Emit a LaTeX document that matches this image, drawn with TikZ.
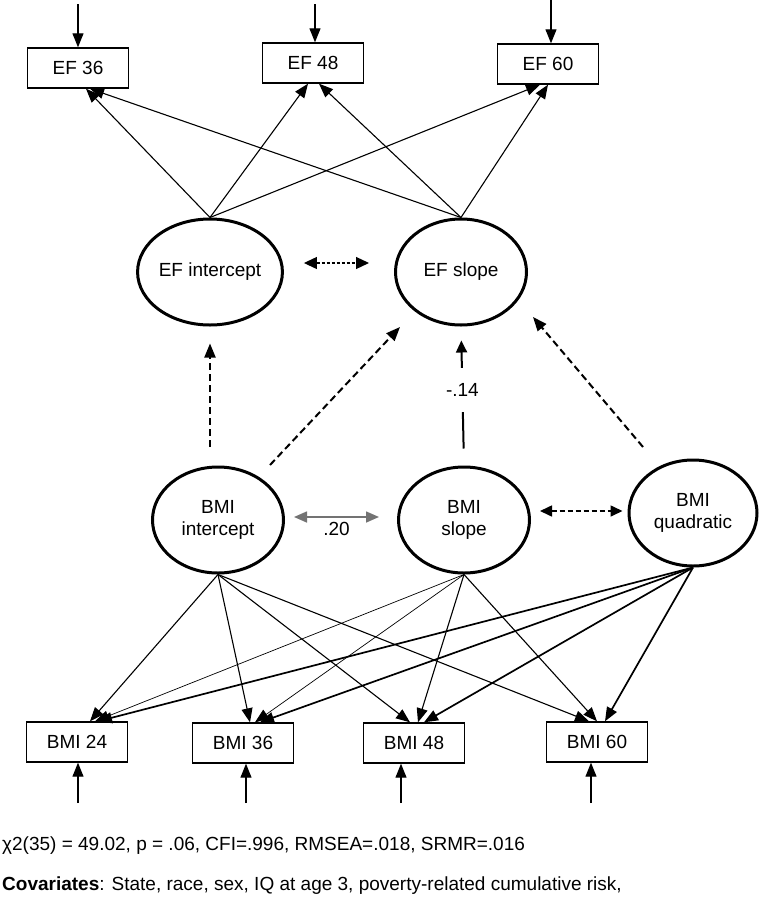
\documentclass[tikz,border=0pt]{standalone}
\usepackage{fontspec}
\setmainfont{Liberation Sans}
\usetikzlibrary{shapes.geometric,arrows.meta,calc}
\begin{document}
\begin{tikzpicture}[x=1pt,y=-1pt,
  every node/.style={font=\fontsize{19}{22}\selectfont},
  obs/.style={draw,line width=1.4pt,minimum width=101pt,minimum height=40pt,inner sep=0pt},
  lat/.style={ellipse,draw,line width=3pt,minimum width=131pt,minimum height=106pt,inner sep=0pt,align=center},
  ld/.style={line width=1.1pt,-{Triangle[length=14pt,width=11pt]}},
  ldthick/.style={line width=1.7pt,-{Triangle[length=14pt,width=11pt]}},
  ldthin/.style={line width=0.7pt,-{Triangle[length=14pt,width=11pt]}},
  err/.style={line width=1.1pt,-{Triangle[length=14pt,width=11pt]}},
  dasharr/.style={line width=2pt,dash pattern=on 7pt off 4pt,-{Triangle[length=14pt,width=11pt]}},
  solidarr/.style={line width=2pt,-{Triangle[length=12pt,width=11pt]}},
  dotcov/.style={line width=1.2pt,dash pattern=on 3pt off 2pt,{Triangle[length=13pt,width=12pt]}-{Triangle[length=13pt,width=12pt]}},
  dashcov/.style={line width=1.6pt,dash pattern=on 5pt off 3pt,{Triangle[length=12pt,width=11pt]}-{Triangle[length=12pt,width=11pt]}},
  graycov/.style={line width=1.6pt,draw=black!55,{Triangle[length=13pt,width=11pt]}-{Triangle[length=13pt,width=11pt]}}
]
\useasboundingbox (0,0) rectangle (761,900);

% observed EF
\node[obs] (ef36) at (78,68) {EF 36};
\node[obs] (ef48) at (313,63) {EF 48};
\node[obs] (ef60) at (548,64) {EF 60};
% latent EF
\node[lat] (efi) at (210,272) {EF intercept};
\node[lat] (efs) at (461,272) {EF slope};
% latent BMI
\node[lat] (bi) at (218,520) {BMI\\intercept};
\node[lat] (bs) at (464,520) {BMI\\slope};
\node[lat,minimum width=128pt] (bq) at (693,513) {BMI\\quadratic};
% observed BMI
\node[obs] (b24) at (77,742) {BMI 24};
\node[obs] (b36) at (243,743) {BMI 36};
\node[obs] (b48) at (414,743) {BMI 48};
\node[obs] (b60) at (597,742) {BMI 60};

% residual arrows
\coordinate (t36) at (78,4);
\coordinate (t48) at (315,4);
\coordinate (t60) at (551,0);
\draw[err] (t36) -- (t36 |- ef36.north);
\draw[err] (t48) -- (t48 |- ef48.north);
\draw[err] (t60) -- (t60 |- ef60.north);
\coordinate (u24) at (78,803);
\coordinate (u36) at (246,803);
\coordinate (u48) at (401,803);
\coordinate (u60) at (591,803);
\draw[err] (u24) -- (u24 |- b24.south);
\draw[err] (u36) -- (u36 |- b36.south);
\draw[err] (u48) -- (u48 |- b48.south);
\draw[err] (u60) -- (u60 |- b60.south);

% EF loadings
\draw[ld] (efi.north) -- ($(ef36.south)+(8,0)$);
\draw[ld] (efi.north) -- ($(ef48.south)+(-5,0)$);
\draw[ld] (efi.north) -- ($(ef60.south)+(-8,0)$);
\draw[ld] (efs.north) -- ($(ef36.south)+(12,0)$);
\draw[ld] (efs.north) -- ($(ef48.south)+(6,0)$);
\draw[ld] (efs.north) -- ($(ef60.south)+(0,0)$);

% BMI loadings
\draw[ld] (bi.south) -- ($(b24.north)+(13,0)$);
\draw[ld] (bi.south) -- ($(b36.north)+(7,0)$);
\draw[ld] (bi.south) -- ($(b48.north)+(-4,0)$);
\draw[ld] (bi.south) -- ($(b60.north)+(-8,0)$);
\draw[ldthin] (bs.south) -- ($(b24.north)+(18,0)$);
\draw[ldthin] (bs.south) -- ($(b36.north)+(12,0)$);
\draw[ld] (bs.south) -- ($(b48.north)+(4,0)$);
\draw[ld] (bs.south) -- ($(b60.north)+(0,0)$);
\draw[ldthick] (bq.south) -- ($(b24.north)+(21,0)$);
\draw[ldthick] (bq.south) -- ($(b36.north)+(17,0)$);
\draw[ldthick] (bq.south) -- ($(b48.north)+(10,0)$);
\draw[ldthick] (bq.south) -- ($(b60.north)+(8,0)$);

% structural paths
\draw[dasharr] ($(bi.north)+(-8,-19)$) -- ($(efi.south)+(0,17)$);
\draw[dasharr] ($(bi.center)+(52,-55)$) -- ($(efs.center)+(-61,55)$);
\draw[dasharr] ($(bq.center)+(-50,-66)$) -- ($(efs.center)+(72,45)$);
\draw[solidarr,shorten <=17pt,shorten >=14pt] (bs.north) -- node[pos=0.545,fill=white,inner xsep=1pt,inner ysep=0pt,minimum height=44pt]{-.14} (efs.south);

% covariances
\draw[dotcov] ($(efi.east)+(20,-9)$) -- ($(efs.west)+(-25,-9)$);
\draw[graycov] ($(bi.east)+(9,-3)$) -- node[below=1pt,black]{.20} ($(bs.west)+(-18,-3)$);
\draw[dashcov] ($(bs.east)+(9,-9)$) -- ($(bq.west)+(-5,-2)$);

% fit text
\node[anchor=west,inner sep=0pt] (fit) at (2,846) {χ2(35) = 49.02, p = .06, CFI=.996, RMSEA=.018, SRMR=.016};
\node[anchor=west,inner sep=0pt] (cov) at (2,886) {\textbf{Covariates}: State, race, sex, IQ at age 3, poverty-related cumulative risk,};
\end{tikzpicture}
\end{document}
